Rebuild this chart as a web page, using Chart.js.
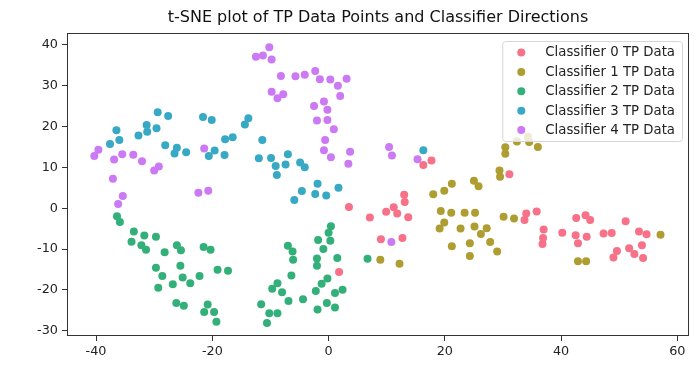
<!DOCTYPE html>
<html>
<head>
<meta charset="utf-8">
<script src="https://cdn.jsdelivr.net/npm/chart.js@4"></script>
<style>
  html, body { margin: 0; padding: 0; background: #fff; }
  #wrap { width: 700px; height: 370px; }
</style>
</head>
<body>
<div id="wrap"><canvas id="chart"></canvas></div>
<script>
// t-SNE coordinates, one list per classifier
const titleText = 't-SNE plot of TP Data Points and Classifier Directions';
const seriesNames = ['Classifier 0 TP Data', 'Classifier 1 TP Data', 'Classifier 2 TP Data', 'Classifier 3 TP Data', 'Classifier 4 TP Data'];
const seriesColors = ['#f77189', '#ae9d31', '#33b07a', '#38a9c5', '#cc7af4'];
const xTicks = [-40, -20, 0, 20, 40, 60];
const yTicks = [-30, -20, -10, 0, 10, 20, 30, 40];

const classifier0 = [[16.3,10.6],[17.7,11.7],[31.1,8.3],[3.5,0.3],[7.1,-2.3],[9.9,-0.9],[11.2,0.2],[11.8,-1.3],[13.0,3.3],[13.1,1.5],[13.7,-2.2],[9.0,-7.6],[12.7,-7.3],[1.8,-15.6],[34.0,-1.3],[33.7,-2.9],[35.8,-0.8],[37.0,-5.2],[36.9,-7.3],[36.8,-8.8],[40.2,-6.0],[42.6,-2.4],[44.2,-1.7],[45.0,-2.9],[42.5,-6.6],[44.4,-7.0],[42.9,-8.6],[47.3,-6.2],[48.7,-6.1],[51.1,-3.2],[49.6,-10.5],[49.0,-12.1],[51.7,-9.8],[52.6,-11.2],[53.4,-5.7],[54.7,-6.4],[53.9,-9.1],[54.1,-12.2]];
const classifier1 = [[8.9,-12.6],[12.2,-13.6],[18.0,3.4],[19.9,4.3],[21.2,6.0],[25.0,6.7],[25.8,5.4],[19.3,-0.7],[21.1,-1.1],[23.4,-1.1],[25.2,-1.1],[19.9,-3.5],[19.1,-5.0],[22.7,-5.0],[25.1,-4.5],[27.2,-4.9],[26.2,-6.3],[27.8,-8.3],[21.2,-9.3],[24.3,-8.6],[24.3,-11.7],[30.4,14.9],[30.4,13.3],[32.4,16.3],[34.5,16.2],[36.0,15.0],[34.3,17.5],[29.4,9.2],[29.5,7.7],[30.1,-2.1],[31.9,-2.5],[29.0,-10.6],[42.9,-13.0],[44.3,-13.0],[57.1,-6.5]];
const classifier2 = [[-36.4,-2.0],[-35.9,-3.4],[-33.5,-5.7],[-31.7,-6.7],[-29.7,-7.0],[-33.9,-8.2],[-32.2,-9.1],[-31.4,-10.2],[-28.2,-10.8],[-26.1,-9.1],[-25.4,-10.3],[-21.5,-9.5],[-20.3,-10.2],[-29.7,-14.6],[-28.6,-16.6],[-29.3,-19.5],[-25.5,-14.1],[-25.1,-17.0],[-26.8,-18.6],[-23.8,-18.4],[-19.1,-15.1],[-17.3,-15.3],[-22.2,-16.6],[-26.2,-23.2],[-24.9,-23.9],[-20.8,-23.6],[-21.4,-25.4],[-19.7,-25.4],[-19.3,-27.8],[-11.6,-23.5],[-10.2,-25.7],[-10.6,-28.1],[6.7,-12.4],[0.4,-4.4],[0.0,-6.0],[-1.8,-7.8],[0.3,-8.0],[-0.9,-10.0],[-2.0,-12.3],[-2.0,-14.1],[1.5,-12.2],[-7.0,-9.2],[-6.2,-10.6],[-6.1,-12.6],[-6.4,-16.5],[-0.2,-17.2],[-1.2,-18.5],[-2.2,-20.3],[1.1,-20.8],[2.4,-20.0],[-4.4,-22.3],[-6.9,-22.7],[-8.0,-20.6],[-8.8,-18.4],[-9.7,-19.7],[-0.3,-23.2],[1.1,-24.3],[-1.9,-24.8],[-8.8,-25.7]];
const classifier3 = [[-37.6,15.7],[-36.5,19.1],[-36.0,16.7],[-32.7,17.8],[-31.3,20.4],[-31.2,18.7],[-29.6,19.6],[-29.4,23.5],[-27.6,22.6],[-28.1,15.4],[-26.1,14.8],[-26.5,13.4],[-24.5,13.7],[-21.6,22.3],[-20.1,21.6],[-19.6,14.1],[-20.6,12.8],[-17.9,13.0],[-17.8,16.9],[-16.5,17.4],[-14.4,20.5],[-13.8,22.0],[-11.4,16.7],[-12.0,12.2],[-9.9,12.3],[-9.1,10.3],[-8.9,8.1],[-7.0,13.2],[-7.4,10.7],[-4.9,11.2],[-4.1,10.0],[-1.9,6.0],[1.7,5.0],[-4.6,4.2],[16.3,14.2],[-5.9,2.0],[-2.3,3.5],[-0.4,3.1]];
const classifier4 = [[-12.5,37.1],[-11.3,37.4],[-10.2,39.4],[-9.8,36.4],[-8.2,32.4],[-9.8,28.5],[-8.8,26.9],[-7.8,27.9],[-40.3,12.8],[-39.6,14.3],[-36.9,11.9],[-35.5,13.2],[-33.6,13.1],[-32.1,11.5],[-30.0,9.2],[-29.2,10.2],[-37.1,7.2],[-21.4,14.6],[-22.4,3.8],[-20.7,4.3],[-35.4,3.0],[-36.2,1.0],[-5.7,32.3],[-4.1,32.7],[-2.3,33.6],[-1.5,31.6],[0.3,31.5],[1.6,30.0],[3.1,31.7],[2.0,27.5],[-2.5,25.0],[-0.8,26.1],[-0.2,24.1],[-2.0,21.5],[-0.2,21.6],[0.9,19.3],[-0.6,16.7],[-0.8,14.2],[0.4,12.5],[3.7,13.8],[3.4,10.9],[10.4,15.0],[10.9,12.9],[15.3,12.0],[10.8,-8.3]];

const allSeries = [classifier0, classifier1, classifier2, classifier3, classifier4];
const FONT = 'DejaVu Sans';

const datasets = allSeries.map((pts, i) => ({
    label: seriesNames[i],
    data: pts.map(p => ({ x: p[0], y: p[1] })),
    backgroundColor: seriesColors[i],
    borderColor: seriesColors[i],
    borderWidth: 0,
    pointRadius: 4,
    pointHoverRadius: 4
}));

// matplotlib style frame (all four spines) + title centred over the axes
const framePlugin = {
    id: 'frame',
    afterDatasetsDraw(chart) {
        const { ctx, chartArea: a } = chart;
        ctx.save();
        ctx.strokeStyle = '#333';
        ctx.lineWidth = 1;
        ctx.strokeRect(a.left + 0.5, a.top + 0.5, a.right - a.left - 1, a.bottom - a.top - 1);
        ctx.font = '16px "' + FONT + '"';
        ctx.fillStyle = '#111';
        ctx.textAlign = 'center';
        ctx.textBaseline = 'middle';
        ctx.fillText(titleText, (a.left + a.right) / 2, a.top - 15);
        ctx.restore();
    }
};

// legend box in the upper right corner of the plot
const legendPlugin = {
    id: 'cornerLegend',
    afterDraw(chart) {
        const { ctx, chartArea: a } = chart;
        ctx.save();
        ctx.font = '13.3px "' + FONT + '"';
        const textW = Math.max(...seriesNames.map(n => ctx.measureText(n).width));
        const w = 43 + textW + 7;
        const rowH = 19.4;
        const h = 100;
        const right = a.right - 7;
        const left = right - w;
        const top = a.top + 8;
        ctx.beginPath();
        ctx.roundRect(left + 0.5, top + 0.5, w, h, 3);
        ctx.fillStyle = 'rgba(255,255,255,0.8)';
        ctx.fill();
        ctx.strokeStyle = '#d6d6d6';
        ctx.lineWidth = 1;
        ctx.stroke();
        ctx.textBaseline = 'middle';
        seriesNames.forEach((name, i) => {
            const cy = top + 11.5 + i * rowH;
            ctx.beginPath();
            ctx.arc(left + 19, cy, 4, 0, Math.PI * 2);
            ctx.fillStyle = seriesColors[i];
            ctx.fill();
            ctx.fillStyle = '#222';
            ctx.fillText(name, left + 43, cy + 0.5);
        });
        ctx.restore();
    }
};

new Chart(document.getElementById('chart'), {
    type: 'scatter',
    data: { datasets },
    plugins: [framePlugin, legendPlugin],
    options: {
        responsive: true,
        maintainAspectRatio: false,
        animation: false,
        layout: { padding: { left: 0, right: 11, top: 33, bottom: 0 } },
        plugins: {
            legend: { display: false },
            tooltip: { enabled: false },
            title: { display: false }
        },
        scales: {
            x: {
                type: 'linear',
                min: -45,
                max: 62,
                afterBuildTicks: s => { s.ticks = xTicks.map(v => ({ value: v })); },
                afterFit: s => { s.height = 34; },
                grid: { drawOnChartArea: false, tickLength: 5, color: '#333', tickColor: '#333' },
                border: { display: false },
                ticks: { color: '#222', padding: 3, font: { family: FONT, size: 12.8 } }
            },
            y: {
                type: 'linear',
                min: -31.3,
                max: 42.9,
                afterBuildTicks: s => { s.ticks = yTicks.map(v => ({ value: v })); },
                afterFit: s => { s.width = 67; },
                grid: { drawOnChartArea: false, tickLength: 5, color: '#333', tickColor: '#333' },
                border: { display: false },
                ticks: { color: '#222', padding: 4, font: { family: FONT, size: 12.8 } }
            }
        }
    }
});
</script>
</body>
</html>
